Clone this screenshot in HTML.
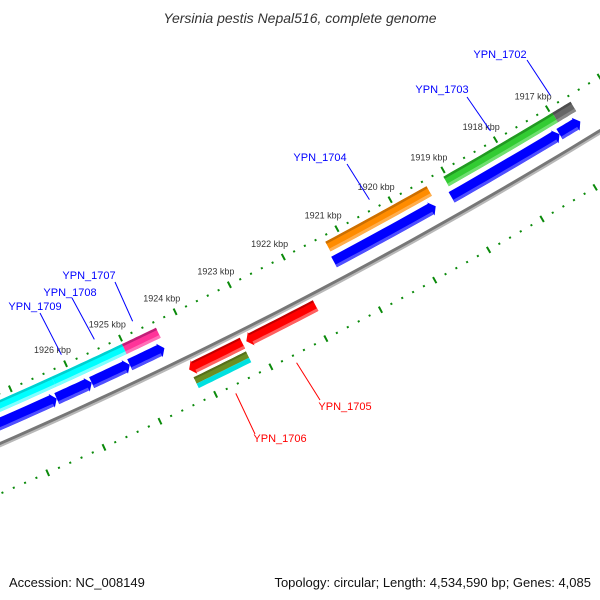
<!DOCTYPE html>
<html><head><meta charset="utf-8"><style>
html,body{margin:0;padding:0;background:#fff;}
svg{display:block;}
</style></head><body>
<svg id="map" width="600" height="600" viewBox="0 0 600 600" xmlns="http://www.w3.org/2000/svg" font-family="'Liberation Sans', sans-serif">
<rect width="600" height="600" fill="#fff"/>
<g id="ticks"></g>
<g id="feats"></g>
<g id="labels"></g>
<text x="300" y="23" text-anchor="middle" font-size="14" font-style="italic" fill="#333">Yersinia pestis Nepal516, complete genome</text>
<text x="9" y="587" font-size="13" fill="#111">Accession: NC_008149</text>
<text x="591" y="587" text-anchor="end" font-size="13" fill="#111">Topology: circular; Length: 4,534,590 bp; Genes: 4,085</text>
</svg>
<script>
// data
const tickKbp = [1916,1917,1918,1919,1920,1921,1922,1923,1924,1925,1926,1927,1928];
const tickLabels = ["1917 kbp","1918 kbp","1919 kbp","1920 kbp","1921 kbp","1922 kbp","1923 kbp","1924 kbp","1925 kbp","1926 kbp"];
const tickLabelKbp = [1917,1918,1919,1920,1921,1922,1923,1924,1925,1926];
const featStart = [1928.5,1926.3,1925.02,1921.27,1919.05,1916.97];
const featEnd   = [1926.3,1925.02,1924.4,1919.37,1916.97,1916.62];
const featColor = ["cyan","cyan","pink","orange","green","grey"];
const geneStart = [1928.5,1926.37,1925.74,1925.05,1921.3,1919.1,1917.05];
const geneEnd   = [1926.37,1925.74,1925.05,1924.42,1919.4,1917.05,1916.65];
const revStart  = [1924.21,1923.17];
const revEnd    = [1923.24,1921.9];
const subStart  = [1924.2];
const subEnd    = [1923.25];
const labelNames = ["YPN_1702","YPN_1703","YPN_1704","YPN_1707","YPN_1708","YPN_1709","YPN_1705","YPN_1706"];
const labelKbp   = [1916.85,1918.0,1920.3,1924.7,1925.4,1926.0,1922.6,1923.7];

// geometry (not data)
const CX=-1965, CY=-4055, A0=58.89, DPK=0.7144;
const labelPos = [[500,58,527,60],[442,93,467,97],[320,161,347,164],[89,279,115,282],[70,296,72,298],[35,310,40,313],[345,410,320,400],[280,442,255,434]];
const NS="http://www.w3.org/2000/svg";
function ang(k){return (A0+(k-1917)*DPK)*Math.PI/180;}
function pt(r,k){const a=ang(k);return [CX+r*Math.cos(a),CY+r*Math.sin(a)];}
function mk(tag,attrs,parent){const e=document.createElementNS(NS,tag);for(const k in attrs)e.setAttribute(k,attrs[k]);parent.appendChild(e);return e;}
function band(k1,k2,r1,r2){const pts=[];const n=12;for(let i=0;i<=n;i++)pts.push(pt(r1,k1+(k2-k1)*i/n));for(let i=n;i>=0;i--)pts.push(pt(r2,k1+(k2-k1)*i/n));return pts.map(p=>p[0].toFixed(1)+","+p[1].toFixed(1)).join(" ");}
function arrow(kBase,kTip,r1,r2,h){ // h in kbp, tip direction from base to tip
  const dir=Math.sign(kTip-kBase);const kNeck=kTip-dir*h;const pts=[];const n=10;
  for(let i=0;i<=n;i++)pts.push(pt(r1,kBase+(kNeck-kBase)*i/n));
  pts.push(pt(r1-1.5,kNeck));pts.push(pt((r1+r2)/2,kTip));pts.push(pt(r2+1.5,kNeck));
  for(let i=n;i>=0;i--)pts.push(pt(r2,kBase+(kNeck-kBase)*i/n));
  return pts.map(p=>p[0].toFixed(1)+","+p[1].toFixed(1)).join(" ");}
const pal={cyan:["#00ffff","#00d0d0","#80ffff"],pink:["#ff3399","#c01f78","#ff70b8"],orange:["#ff8c00","#cc6f00","#ffae4d"],green:["#33cc33","#229922","#70e070"],grey:["#666666","#4d4d4d","#888888"],blue:["#0000ff","#0000c0","#5050ff"],red:["#ff0000","#c00000","#ff6060"],olive:["#6b8e23","#556f1b","#8aaa40"]};

const T=document.getElementById('ticks'),F=document.getElementById('feats'),L=document.getElementById('labels');
// backbone
(function(){const p=[];for(let k=1915;k<=1930;k+=0.25)p.push(pt(4911.5,k));
 const e=mk('polyline',{points:p.map(q=>q.join(",")).join(" "),fill:"none",stroke:"#b8b8b8","stroke-width":2},F);
 
 const p2=[];for(let k=1915;k<=1930;k+=0.25)p2.push(pt(4909,k));
 const b=mk('polyline',{points:p2.map(q=>q.join(",")).join(" "),fill:"none",stroke:"#777","stroke-width":3},F);
 })();
// ticks
[4863,4955].forEach((R,ri)=>{
  for(let k=1915;k<=1930.01;k+=0.2){
    const major=Math.abs(k-Math.round(k))<0.01;
    const len=major?3.5:1;
    const a=pt(R-len,k),b=pt(R+len,k);
    const e=mk('line',{x1:a[0],y1:a[1],x2:b[0],y2:b[1],stroke:"#0a8a0a","stroke-width":major?2:2},T);
    
    
  }});
tickLabelKbp.forEach((k,i)=>{const p=pt(4845,k+0.1);
  const t=mk('text',{x:p[0],y:p[1]+3,"text-anchor":"middle","font-size":9,fill:"#333"},T);t.textContent=tickLabels[i];
  });
// colored feature ring
featStart.forEach((s,i)=>{const c=pal[featColor[i]];
  const g=mk('g',{},F);
  mk('polygon',{points:band(s,featEnd[i],4869,4880),fill:c[0]},g);
  mk('polygon',{points:band(s,featEnd[i],4869,4871.5),fill:c[1]},g);
  mk('polygon',{points:band(s,featEnd[i],4877,4880),fill:c[2]},g);});
// forward genes (blue)
geneStart.forEach((s,i)=>{const c=pal.blue;
  const g=mk('g',{},F);
  mk('polygon',{points:arrow(s,geneEnd[i],4885,4897,0.09),fill:c[0]},g);
  mk('polygon',{points:band(s,geneEnd[i]+0.09,4894,4897),fill:c[2]},g);});
// reverse genes (red)
revStart.forEach((s,i)=>{const c=pal.red;
  const g=mk('g',{},F);
  mk('polygon',{points:arrow(revEnd[i],s,4915,4927,0.09),fill:c[0]},g);
  mk('polygon',{points:band(revEnd[i],s-0.09,4915,4917),fill:c[1]},g);
  mk('polygon',{points:band(revEnd[i],s-0.09,4924,4927),fill:c[2]},g);});
// sub features olive/cyan
subStart.forEach((s,i)=>{
  const g=mk('g',{},F);
  mk('polygon',{points:band(s,subEnd[i],4930,4937),fill:pal.olive[0]},g);
  mk('polygon',{points:band(s,subEnd[i],4930,4932),fill:pal.olive[1]},g);
  mk('polygon',{points:band(s,subEnd[i],4937,4942),fill:"#00e0e0"},g);});
// gene labels
labelNames.forEach((n,i)=>{const red=i>=6;const col=red?"#ff0000":"#0000ff";
  const r=red?4963:4853;const p=pt(r,labelKbp[i]);const lp=labelPos[i];
  const ln=mk('line',{x1:p[0],y1:p[1],x2:lp[2],y2:lp[3],stroke:col,"stroke-width":1},L);
  
  const t=mk('text',{x:lp[0],y:lp[1],"text-anchor":"middle","font-size":11,fill:col},L);t.textContent=n;
  });
</script>
</body></html>
